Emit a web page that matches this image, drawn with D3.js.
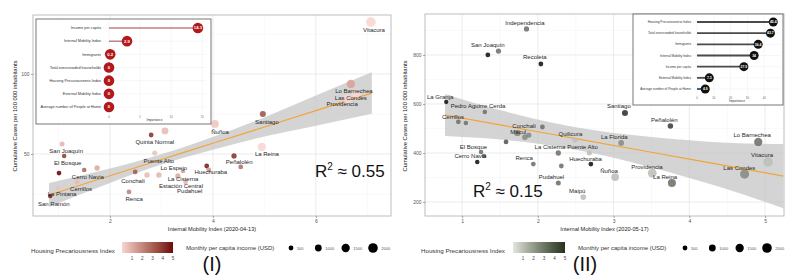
<!DOCTYPE html>
<html>
<head>
<meta charset="utf-8">
<script src="https://cdn.jsdelivr.net/npm/d3@7"></script>
<style>
  body { margin: 0; background: #fff; }
  svg { font-family: "Liberation Sans", Arial, sans-serif; }
</style>
</head>
<body>
<svg width="800" height="276"></svg>
<script>
// ---------- panel (I) : 2020-04-13 ----------
const comunasI = ["Vitacura","Lo Barnechea","Las Condes","Providencia","Santiago","Ñuñoa","Quinta Normal","Puente Alto",
  "Lo Espejo","Huechuraba","La Cisterna","Estación Central","Pudahuel","Conchalí","Renca","Peñalolén","La Reina",
  "San Joaquín","El Bosque","Cerro Navia","Cerrillos","La Pintana","San Ramón","","","","","",""]
const mobilityI = [7.07,6.68,6.78,6.62,4.97,4.04,2.80,2.87,3.42,3.88,3.32,3.92,3.47,2.49,2.37,4.41,4.95,1.07,1.11,1.50,1.36,0.99,0.84,
  3.07,2.72,2.95,4.54,1.01,1.75]
const casesI = [132.5,93.8,87.5,84.4,75.0,68.8,61.9,50.6,39.4,42.5,36.3,40.0,32.5,38.8,26.3,48.8,54.4,56.3,48.8,40.0,32.5,28.8,23.8,
  64.4,36.9,36.9,41.9,38.1,41.3]
const housingI = [1.0,2.0,1.0,1.0,3.6,1.3,4.2,1.4,2.0,4.6,1.8,2.2,1.6,3.4,2.6,4.2,1.0,1.6,4.0,3.2,1.5,1.4,4.6,
  1.5,1.5,1.6,3.0,5.0,1.8]
const incomeI = [2000,1500,1800,1700,800,1300,500,550,450,500,600,500,500,500,500,600,1500,550,450,450,500,450,450,
  1000,650,650,500,500,650]
const labelXI = [7.13,6.74,6.68,6.51,5.05,4.14,2.87,2.95,3.24,3.96,3.42,3.38,3.55,2.45,2.47,4.51,5.05,1.15,1.18,1.57,1.44,1.07,0.91]
const labelYI = [126.3,88.1,83.8,80.0,68.8,62.5,56.3,44.4,40.0,37.5,33.1,28.8,25.6,31.9,20.6,43.8,48.8,50.6,43.1,34.4,26.9,23.8,17.5]

const fitXI = [0.816, 2, 3, 4, 5, 6, 7.087]
const fitYI = [24.4, 36.4, 46.6, 56.7, 66.9, 77.1, 88.1]
const fitLoI = [16.9, 31.9, 43.4, 52.7, 60.9, 67.6, 75.1]
const fitHiI = [31.9, 40.9, 49.8, 60.7, 72.9, 86.6, 101.1]

const impVarsI = ["Income per capita","Internal Mobility Index","Immigrants","Total overcrowded households",
  "Housing Precariousness Index","External Mobility Index","Average number of People at Home"]
const impValsI = [14.3, 2.9, 0.2, 0, 0, 0, 0]

// ---------- panel (II) : 2020-05-17 ----------
const comunasII = ["Independencia","San Joaquín","Recoleta","La Granja","Pedro Aguirre Cerda","Cerrillos","Conchalí","Macul",
  "Quilicura","La Florida","Santiago","Peñalolén","Lo Barnechea","Vitacura","Las Condes","Providencia","La Reina","Ñuñoa",
  "La Cisterna","Puente Alto","Huechuraba","Renca","El Bosque","Cerro Navia","Pudahuel","Maipú","","","","","","",""]
const mobilityII = [1.85,1.34,2.04,0.79,1.30,0.95,2.06,1.73,2.49,3.10,3.15,3.75,4.91,5.04,4.73,3.51,3.77,3.02,2.27,2.68,2.70,1.94,
  1.25,1.20,2.27,2.60,1.48,1.05,1.83,1.88,1.58,2.31,1.29]
const casesII = [906,800,763,608,567,527,506,482,453,441,563,510,445,363,314,318,278,302,400,400,355,355,404,363,278,220,
  816,522,465,473,445,347,388]
const housingII = [3,5,5,5,3,3,3,2.5,1.5,2.5,4.3,4,3,1.5,2.5,1.5,3,1.5,3,1.5,5,3,3,5,3,1.5,3,3,2.5,2.5,3.5,3,3]
const incomeII = [600,500,500,400,450,500,500,900,550,700,800,650,1500,2000,1800,1700,1400,1300,600,550,500,500,450,450,550,700,
  600,450,700,600,500,500,450]
const labelXII = [1.83,1.34,1.96,0.71,1.21,0.88,1.82,1.74,2.43,3.01,3.07,3.67,4.83,4.96,4.66,3.44,3.68,2.94,2.16,2.59,2.63,1.82,
  1.15,1.11,2.18,2.52]
const labelYII = [922,833,784,620,584,539,502,478,469,457,584,527,465,384,331,335,294,318,416,416,367,371,416,380,294,237]

const fitXII = [0.775, 1.5, 2.5, 3.5, 4.5, 5.24]
const fitYII = [555, 514.6, 458.8, 403, 347.3, 306]
const fitLoII = [469, 455, 413, 341, 252, 175]
const fitHiII = [641, 575, 505, 465, 442, 437]

const impVarsII = ["Housing Precariousness Index","Total overcrowded households","Immigrants","Internal Mobility Index",
  "Income per capita","External Mobility Index","Average number of People at Home"]
const impValsII = [45.4, 43.7, 36.4, 34, 27.9, 7.3, 4.9]

// legends
const hpiTicks = [1, 2, 3, 4, 5]
const incomeKeys = [500, 1000, 1500, 2000]

const svg = d3.select("svg")
const defs = svg.append("defs")

const size = d3.scaleSqrt().domain([0, 2000]).range([0, 4.8])
const colorI = d3.scaleLinear().domain([1, 5]).range(["#f7d6d1", "#6d0b0b"]).interpolate(d3.interpolateLab)
const colorII = d3.scaleLinear().domain([1, 5]).range(["#d9dbd4", "#181a14"]).interpolate(d3.interpolateLab)
const legendII = d3.scaleLinear().domain([1, 5]).range(["#e3e6dc", "#26331b"]).interpolate(d3.interpolateLab)

function makeRows(names, xs, ys, hs, inc, lx, ly){
    return names.map(function(n, i){
        return {name: n, x: xs[i], y: ys[i], h: hs[i], inc: inc[i],
                lx: i < lx.length ? lx[i] : null, ly: i < ly.length ? ly[i] : null}
    })
}

function drawPanel(cfg){
    const g = svg.append("g")
    const x = cfg.x, y = cfg.y
    const X0 = x.range()[0], X1 = x.range()[1], Y0 = y.range()[0], Y1 = y.range()[1]

    // grid
    g.selectAll(".vmin").data(cfg.xMinor).join("line")
        .attr("x1", d => x(d)).attr("x2", d => x(d)).attr("y1", Y0).attr("y2", Y1)
        .attr("stroke", "#f2f2f2").attr("stroke-width", 0.5)
    g.selectAll(".hmin").data(cfg.yMinor).join("line")
        .attr("y1", d => y(d)).attr("y2", d => y(d)).attr("x1", X0).attr("x2", X1)
        .attr("stroke", "#f2f2f2").attr("stroke-width", 0.5)
    g.selectAll(".vmaj").data(cfg.xTicks).join("line")
        .attr("x1", d => x(d)).attr("x2", d => x(d)).attr("y1", Y0).attr("y2", Y1)
        .attr("stroke", "#e6e6e6").attr("stroke-width", 0.8)
    g.selectAll(".hmaj").data(cfg.yTicks).join("line")
        .attr("y1", d => y(d)).attr("y2", d => y(d)).attr("x1", X0).attr("x2", X1)
        .attr("stroke", "#e6e6e6").attr("stroke-width", 0.8)

    // smooth band + fit line
    const band = cfg.fitX.map((d, i) => ({x: d, y: cfg.fitY[i], lo: cfg.fitLo[i], hi: cfg.fitHi[i]}))
    g.append("path").datum(band)
        .attr("d", d3.area().x(d => x(d.x)).y0(d => y(d.lo)).y1(d => y(d.hi)).curve(d3.curveMonotoneX))
        .attr("fill", "#c2c2c2").attr("opacity", 0.7)
    g.append("path").datum(band)
        .attr("d", d3.line().x(d => x(d.x)).y(d => y(d.y)).curve(d3.curveMonotoneX))
        .attr("fill", "none").attr("stroke", "#f2a53a").attr("stroke-width", 1.2)

    // points
    g.selectAll(".pt").data(cfg.rows).join("circle")
        .attr("cx", d => x(d.x)).attr("cy", d => y(d.y))
        .attr("r", d => size(d.inc))
        .attr("fill", d => cfg.color(d.h))
        .attr("opacity", 0.9)

    // labels
    g.selectAll(".lab").data(cfg.rows.filter(d => d.name !== "")).join("text")
        .attr("x", d => x(d.lx)).attr("y", d => y(d.ly))
        .attr("text-anchor", "middle")
        .attr("font-size", 6).attr("fill", "#1f1f1f")
        .text(d => d.name)

    // border
    g.append("rect").attr("x", X0).attr("y", Y1).attr("width", X1 - X0).attr("height", Y0 - Y1)
        .attr("fill", "none").attr("stroke", "#b5b5b5").attr("stroke-width", 0.9)

    // axes
    g.append("g").attr("transform", "translate(" + X0 + ",0)")
        .call(d3.axisLeft(y).tickValues(cfg.yTicks).tickFormat(d3.format("~g")).tickSize(2).tickPadding(1.5))
        .call(a => a.select(".domain").remove())
        .call(a => a.selectAll("text").attr("font-size", 5).attr("fill", "#555"))
        .call(a => a.selectAll("line").attr("stroke", "#555").attr("stroke-width", 0.5))
    g.append("g").attr("transform", "translate(0," + Y0 + ")")
        .call(d3.axisBottom(x).tickValues(cfg.xTicks).tickFormat(d3.format("~g")).tickSize(2).tickPadding(1.5))
        .call(a => a.select(".domain").remove())
        .call(a => a.selectAll("text").attr("font-size", 5).attr("fill", "#555"))
        .call(a => a.selectAll("line").attr("stroke", "#555").attr("stroke-width", 0.5))

    // titles
    g.append("text").attr("x", (X0 + X1) / 2).attr("y", 231)
        .attr("text-anchor", "middle").attr("font-size", 5.6).attr("fill", "#222")
        .text(cfg.xTitle)
    g.append("text").attr("transform", "translate(" + cfg.yTitleX + "," + 116 + ") rotate(-90)")
        .attr("text-anchor", "middle").attr("font-size", 5.9).attr("fill", "#222")
        .text("Cumulative Cases per 100 000 inhabitants")

    // R^2
    const r2 = g.append("text").attr("x", cfg.r2x).attr("y", cfg.r2y)
        .attr("font-size", 17).attr("fill", "#111")
    r2.append("tspan").text("R")
    r2.append("tspan").attr("font-size", 10).attr("dy", -7).text("2")
    r2.append("tspan").attr("dy", 7).text(" \u2248 " + cfg.r2)
}

function drawInset(cfg){
    const g = svg.append("g")
    const b = cfg.box
    g.append("rect").attr("x", b[0]).attr("y", b[1]).attr("width", b[2]).attr("height", b[3])
        .attr("fill", "#fff").attr("stroke", "#555").attr("stroke-width", 0.8)

    const x = d3.scaleLinear().domain(cfg.domain).range(cfg.range)
    const y = d3.scalePoint().domain(cfg.vars).range(cfg.rowRange)

    g.selectAll(".ig").data(cfg.ticks).join("line")
        .attr("x1", d => x(d)).attr("x2", d => x(d)).attr("y1", cfg.panelTop).attr("y2", cfg.panelBottom)
        .attr("stroke", "#ececec").attr("stroke-width", 0.5)
    g.selectAll(".ih").data(cfg.vars).join("line")
        .attr("y1", d => y(d)).attr("y2", d => y(d)).attr("x1", cfg.range[0]).attr("x2", cfg.range[1])
        .attr("stroke", "#ececec").attr("stroke-width", 0.5)

    g.selectAll(".stem").data(cfg.vals).join("line")
        .attr("x1", x(0)).attr("x2", d => x(d))
        .attr("y1", (d, i) => y(cfg.vars[i])).attr("y2", (d, i) => y(cfg.vars[i]))
        .attr("stroke", cfg.stem).attr("stroke-width", cfg.stemW)

    g.selectAll(".dot").data(cfg.vals).join("circle")
        .attr("cx", d => x(d)).attr("cy", (d, i) => y(cfg.vars[i]))
        .attr("r", cfg.r).attr("fill", cfg.fill)
    g.selectAll(".val").data(cfg.vals).join("text")
        .attr("x", d => x(d)).attr("y", (d, i) => y(cfg.vars[i]) + cfg.valFont * 0.35)
        .attr("text-anchor", "middle").attr("font-size", cfg.valFont).attr("font-weight", "bold")
        .attr("fill", "#fff")
        .text(d => d === 0 ? "0" : d3.format(".1f")(d).replace(/\.0$/, ""))

    g.selectAll(".var").data(cfg.vars).join("text")
        .attr("x", cfg.range[0] - 2).attr("y", d => y(d) + cfg.labFont * 0.35)
        .attr("text-anchor", "end").attr("font-size", cfg.labFont).attr("fill", "#333")
        .text(d => d)

    g.selectAll(".tk").data(cfg.ticks).join("text")
        .attr("x", d => x(d)).attr("y", cfg.panelBottom + 3.5)
        .attr("text-anchor", "middle").attr("font-size", 2.8).attr("fill", "#666")
        .text(d => d)
    g.append("text").attr("x", (cfg.range[0] + cfg.range[1]) / 2).attr("y", cfg.panelBottom + 7)
        .attr("text-anchor", "middle").attr("font-size", 3.2).attr("fill", "#333")
        .text("Importance")
}

function drawLegend(cfg){
    const g = svg.append("g")
    g.append("text").attr("x", cfg.hx).attr("y", 253).attr("font-size", 6.2).attr("fill", "#333")
        .text("Housing Precariousness Index")
    const gid = "grad" + cfg.id
    const grad = defs.append("linearGradient").attr("id", gid)
    hpiTicks.forEach(function(t){
        grad.append("stop").attr("offset", ((t - 1) / 4 * 100) + "%").attr("stop-color", cfg.color(t))
    })
    g.append("rect").attr("x", cfg.bx).attr("y", 242).attr("width", cfg.bw).attr("height", 11)
        .attr("fill", "url(#" + gid + ")")
    const t = d3.scaleLinear().domain([1, 5]).range([cfg.bx + 10, cfg.bx + cfg.bw])
    g.selectAll(".tl").data(hpiTicks).join("text")
        .attr("x", d => t(d)).attr("y", 260).attr("text-anchor", "middle")
        .attr("font-size", 4.6).attr("fill", "#444").text(d => d)

    g.append("text").attr("x", cfg.mx).attr("y", 250).attr("font-size", 6).attr("fill", "#333")
        .text("Monthly per capita income (USD)")
    const s = d3.scalePoint().domain(incomeKeys).range([cfg.sx, cfg.sx + 82])
    g.selectAll(".sc").data(incomeKeys).join("circle")
        .attr("cx", d => s(d)).attr("cy", 248).attr("r", d => size(d)).attr("fill", "#000")
    g.selectAll(".st").data(incomeKeys).join("text")
        .attr("x", d => s(d) + size(d) + 3.5).attr("y", 249.5)
        .attr("font-size", 4).attr("fill", "#555").text(d => d)

    g.append("text").attr("x", cfg.tagX).attr("y", 271).attr("text-anchor", "middle")
        .attr("font-size", 20).attr("fill", "#111").text(cfg.tag)
}

// panel I
drawPanel({
    x: d3.scaleLinear().domain([0.505, 7.46]).range([33, 391]),
    y: d3.scaleLinear().domain([11.25, 136.9]).range([216, 15]),
    xTicks: [2, 4, 6], xMinor: [1, 3, 5, 7],
    yTicks: [50, 100], yMinor: [25, 75, 125],
    rows: makeRows(comunasI, mobilityI, casesI, housingI, incomeI, labelXI, labelYI),
    color: colorI,
    fitX: fitXI, fitY: fitYI, fitLo: fitLoI, fitHi: fitHiI,
    xTitle: "Internal Mobility Index (2020-04-13)", yTitleX: 17,
    r2: "0.55", r2x: 315, r2y: 177
})
drawInset({
    box: [36, 19, 175, 105], vars: impVarsI, vals: impValsI,
    domain: [-0.96, 15.6], range: [103, 206], rowRange: [28, 107],
    panelTop: 21, panelBottom: 114, ticks: [0, 5, 10, 15],
    stem: "#8e1b1b", stemW: 0.8, r: 5.3, fill: "#b3191c", valFont: 4.2, labFont: 3.8
})
drawLegend({id: 1, color: colorI, hx: 31, bx: 122, bw: 51, mx: 186, sx: 291, tag: "(I)", tagX: 212})

// panel II
drawPanel({
    x: d3.scaleLinear().domain([0.51, 5.25]).range([425, 784]),
    y: d3.scaleLinear().domain([143, 967]).range([216, 14]),
    xTicks: [1, 2, 3, 4, 5], xMinor: [1.5, 2.5, 3.5, 4.5],
    yTicks: [200, 400, 600, 800], yMinor: [300, 500, 700, 900],
    rows: makeRows(comunasII, mobilityII, casesII, housingII, incomeII, labelXII, labelYII),
    color: colorII,
    fitX: fitXII, fitY: fitYII, fitLo: fitLoII, fitHi: fitHiII,
    xTitle: "Internal Mobility Index (2020-05-17)", yTitleX: 407,
    r2: "0.15", r2x: 473, r2y: 197
})
drawInset({
    box: [633, 14, 150, 91], vars: impVarsII, vals: impValsII,
    domain: [-2.4, 50], range: [693, 781], rowRange: [22, 89],
    panelTop: 16, panelBottom: 95, ticks: [0, 10, 20, 30, 40],
    stem: "#4a4a4a", stemW: 1.8, r: 4.5, fill: "#111", valFont: 3.4, labFont: 3.2
})
drawLegend({id: 2, color: legendII, hx: 421, bx: 513, bw: 52, mx: 578, sx: 685, tag: "(II)", tagX: 585})
</script>
</body>
</html>
